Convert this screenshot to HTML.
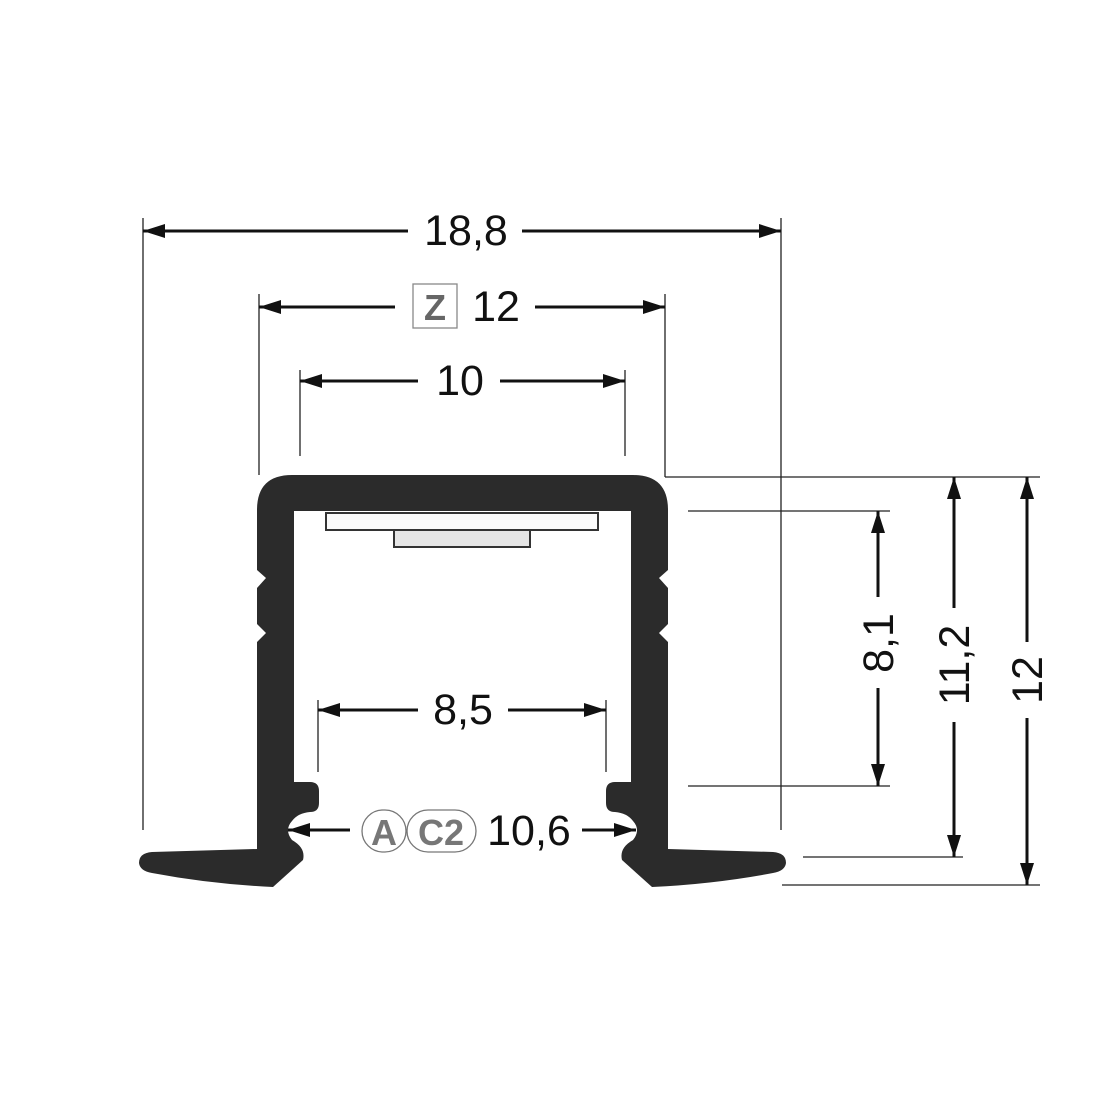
<!DOCTYPE html>
<html><head><meta charset="utf-8"><style>
html,body{margin:0;padding:0;background:#fff;}
svg{display:block;}
text{font-family:"Liberation Sans",sans-serif;fill:#111;}
</style></head><body>
<svg width="1100" height="1100" viewBox="0 0 1100 1100" xmlns="http://www.w3.org/2000/svg">
<defs>
<marker id="ah" viewBox="0 0 22 14" refX="22" refY="7" markerWidth="22" markerHeight="14" markerUnits="userSpaceOnUse" orient="auto-start-reverse">
<path d="M0,0 L22,7 L0,14 Z" fill="#111"/>
</marker>
<path id="half" d="M464 475 L292 475 Q257 475 257 510 L257 570 L266 578 L257 588 L257 624 L266 633 L257 642 L257 849 L152 852 Q139 853 139 863 Q140 871 152 873 Q210 884 273 887 L303 860 Q306 848 292 840 Q284 830 292 821 Q298 813 310 812 Q319 812 319 803 L319 791 Q319 782 310 782 L294 782 L294 511 L464 511 Z"/>
</defs>
<g fill="#2b2b2b">
<use href="#half"/>
<use href="#half" transform="translate(925,0) scale(-1,1)"/>
</g>
<rect x="326" y="513" width="272" height="17" fill="#fafafa" stroke="#333" stroke-width="2"/>
<rect x="394" y="530" width="136" height="17" fill="#e6e6e6" stroke="#333" stroke-width="2"/>

<g stroke="#222" stroke-width="1.3" fill="none">
<line x1="143" y1="218" x2="143" y2="830"/>
<line x1="781" y1="218" x2="781" y2="830"/>
<line x1="259" y1="294" x2="259" y2="475"/>
<line x1="665" y1="294" x2="665" y2="477"/>
<line x1="665" y1="477" x2="1040" y2="477"/>
<line x1="300" y1="370" x2="300" y2="456"/>
<line x1="625" y1="370" x2="625" y2="456"/>
<line x1="318" y1="700" x2="318" y2="772"/>
<line x1="606" y1="700" x2="606" y2="772"/>
<line x1="688" y1="511" x2="890" y2="511"/>
<line x1="688" y1="786" x2="890" y2="786"/>
<line x1="803" y1="857" x2="963" y2="857"/>
<line x1="782" y1="885" x2="1040" y2="885"/>
</g>

<g stroke="#111" stroke-width="3" fill="none">
<line x1="143" y1="231" x2="408" y2="231" marker-start="url(#ah)"/>
<line x1="522" y1="231" x2="781" y2="231" marker-end="url(#ah)"/>
<line x1="259" y1="307" x2="395" y2="307" marker-start="url(#ah)"/>
<line x1="535" y1="307" x2="665" y2="307" marker-end="url(#ah)"/>
<line x1="300" y1="381" x2="418" y2="381" marker-start="url(#ah)"/>
<line x1="500" y1="381" x2="625" y2="381" marker-end="url(#ah)"/>
<line x1="318" y1="710" x2="418" y2="710" marker-start="url(#ah)"/>
<line x1="508" y1="710" x2="606" y2="710" marker-end="url(#ah)"/>
<line x1="288" y1="830" x2="350" y2="830" marker-start="url(#ah)"/>
<line x1="582" y1="830" x2="636" y2="830" marker-end="url(#ah)"/>
<line x1="878" y1="511" x2="878" y2="597" marker-start="url(#ah)"/>
<line x1="878" y1="688" x2="878" y2="786" marker-end="url(#ah)"/>
<line x1="954" y1="477" x2="954" y2="608" marker-start="url(#ah)"/>
<line x1="954" y1="722" x2="954" y2="857" marker-end="url(#ah)"/>
<line x1="1027" y1="477" x2="1027" y2="642" marker-start="url(#ah)"/>
<line x1="1027" y1="718" x2="1027" y2="885" marker-end="url(#ah)"/>
</g>

<g font-size="43" text-anchor="middle">
<text x="466" y="245">18,8</text>
<text x="496" y="321">12</text>
<text x="460" y="395">10</text>
<text x="463" y="724">8,5</text>
<text x="529" y="845">10,6</text>
<text transform="translate(893,643) rotate(-90)">8,1</text>
<text transform="translate(969,665) rotate(-90)">11,2</text>
<text transform="translate(1042,680) rotate(-90)">12</text>
</g>
<rect x="413" y="284" width="44" height="44" fill="#fff" stroke="#888" stroke-width="1.3"/>
<text x="435" y="320" font-size="36" font-weight="bold" text-anchor="middle" style="fill:#666">Z</text>
<rect x="362" y="810" width="44" height="42" rx="21" fill="none" stroke="#777" stroke-width="1.3"/>
<rect x="407" y="810" width="69" height="42" rx="21" fill="none" stroke="#777" stroke-width="1.3"/>
<text x="384" y="845" font-size="36" font-weight="bold" text-anchor="middle" style="fill:#777">A</text>
<text x="441" y="845" font-size="36" font-weight="bold" text-anchor="middle" style="fill:#777">C2</text>
</svg>
</body></html>
